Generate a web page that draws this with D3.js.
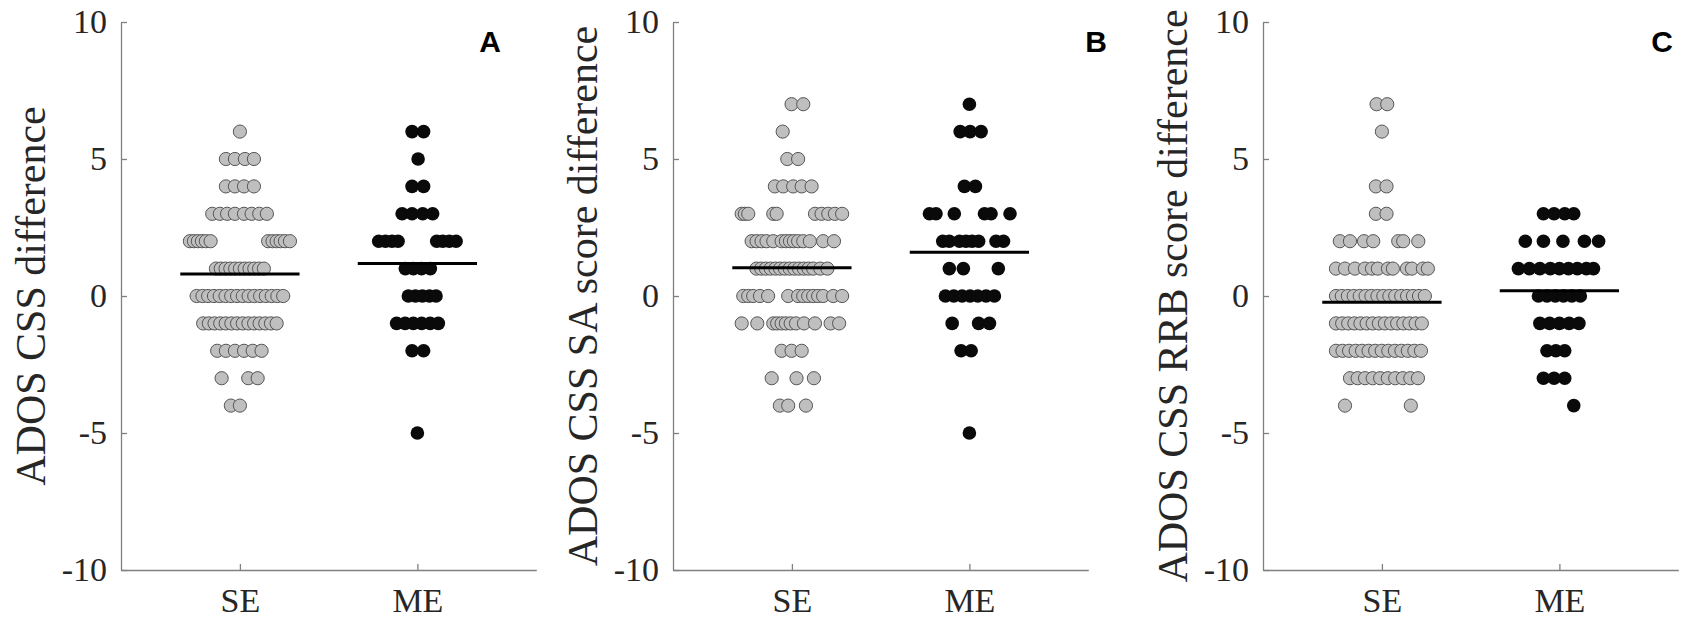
<!DOCTYPE html>
<html>
<head>
<meta charset="utf-8">
<script src="https://cdn.jsdelivr.net/npm/d3@7"></script>
<style>
  html, body { margin: 0; padding: 0; background: #ffffff; }
  svg { display: block; }
</style>
</head>
<body>
<svg id="chart" width="1683" height="623"></svg>
<script>
// ---------------- data ----------------
const groups = ["SE", "ME"];
const yTicks = [-10, -5, 0, 5, 10];
const panelLetters = ["A", "B", "C"];
const yLabels = [
  "ADOS CSS difference",
  "ADOS CSS SA score difference",
  "ADOS CSS RRB score difference"
];

// each row: [score value, [horizontal jitter of each subject, in category units]]
const panelA_SE = [
  [6,  [0]],
  [5,  [-0.079, -0.028, 0.028, 0.079]],
  [4,  [-0.079, -0.028, 0.023, 0.079]],
  [3,  [-0.156, -0.113, -0.072, -0.028, 0.023, 0.066, 0.109, 0.152]],
  [2,  [-0.282, -0.259, -0.237, -0.214, -0.192, -0.165, 0.159, 0.184, 0.207, 0.229, 0.254, 0.282]],
  [1,  [-0.135, -0.108, -0.081, -0.054, -0.027, 0.0, 0.027, 0.054, 0.081, 0.108, 0.135]],
  [0,  [-0.244, -0.211, -0.179, -0.146, -0.114, -0.081, -0.049, -0.016, 0.016, 0.049, 0.081, 0.114, 0.146, 0.179, 0.211, 0.244]],
  [-1, [-0.207, -0.175, -0.143, -0.111, -0.080, -0.048, -0.016, 0.016, 0.048, 0.080, 0.111, 0.143, 0.175, 0.207]],
  [-2, [-0.128, -0.079, -0.028, 0.023, 0.072, 0.122]],
  [-3, [-0.103, 0.047, 0.100]],
  [-4, [-0.051, 0.0]]
];
const panelA_ME = [
  [6,  [-0.030, 0.035]],
  [5,  [0.004]],
  [4,  [-0.030, 0.035]],
  [3,  [-0.086, -0.030, 0.030, 0.086]],
  [2,  [-0.218, -0.180, -0.143, -0.109, 0.109, 0.143, 0.180, 0.218]],
  [1,  [-0.068, -0.023, 0.023, 0.073]],
  [0,  [-0.051, -0.011, 0.028, 0.068, 0.105]],
  [-1, [-0.117, -0.069, -0.023, 0.024, 0.072, 0.118]],
  [-2, [-0.030, 0.035]],
  [-5, [0.0]]
];
const panelB_SE = [
  [7,  [-0.002, 0.064]],
  [6,  [-0.052]],
  [5,  [-0.026, 0.035]],
  [4,  [-0.096, -0.049, 0.007, 0.055, 0.111]],
  [3,  [-0.283, -0.265, -0.246, -0.105, -0.086, 0.130, 0.167, 0.205, 0.242, 0.283]],
  [2,  [-0.227, -0.199, -0.171, -0.143, -0.105, -0.058, -0.034, -0.011, 0.011, 0.035, 0.064, 0.101, 0.176, 0.237]],
  [1,  [-0.200, -0.173, -0.147, -0.120, -0.093, -0.067, -0.040, -0.013, 0.013, 0.040, 0.067, 0.093, 0.120, 0.160, 0.200]],
  [0,  [-0.274, -0.246, -0.218, -0.180, -0.134, -0.021, 0.035, 0.064, 0.092, 0.120, 0.148, 0.176, 0.233, 0.283]],
  [-1, [-0.283, -0.195, -0.105, -0.083, -0.058, -0.034, -0.007, 0.023, 0.068, 0.130, 0.218, 0.266]],
  [-2, [-0.058, -0.002, 0.055]],
  [-3, [-0.114, 0.026, 0.124]],
  [-4, [-0.068, -0.021, 0.079]]
];
const panelB_ME = [
  [7,  [0.0]],
  [6,  [-0.052, 0.004, 0.066]],
  [4,  [-0.028, 0.034]],
  [3,  [-0.225, -0.188, -0.085, 0.085, 0.122, 0.229]],
  [2,  [-0.150, -0.113, -0.056, -0.019, 0.015, 0.052, 0.150, 0.192]],
  [1,  [-0.113, -0.034, 0.163]],
  [0,  [-0.135, -0.088, -0.041, 0.004, 0.047, 0.094, 0.141]],
  [-1, [-0.097, 0.052, 0.113]],
  [-2, [-0.047, 0.010]],
  [-5, [0.0]]
];
const panelC_SE = [
  [7,  [-0.030, 0.030]],
  [6,  [0.0]],
  [4,  [-0.034, 0.026]],
  [3,  [-0.034, 0.026]],
  [2,  [-0.237, -0.180, -0.101, -0.049, 0.092, 0.120, 0.205]],
  [1,  [-0.259, -0.208, -0.152, -0.096, -0.056, -0.023, 0.034, 0.062, 0.141, 0.169, 0.231, 0.259]],
  [0,  [-0.259, -0.226, -0.192, -0.159, -0.125, -0.092, -0.059, -0.025, 0.008, 0.042, 0.075, 0.109, 0.142, 0.175, 0.209, 0.242]],
  [-1, [-0.259, -0.224, -0.190, -0.155, -0.121, -0.086, -0.052, -0.017, 0.017, 0.052, 0.086, 0.121, 0.155, 0.190, 0.225]],
  [-2, [-0.259, -0.222, -0.185, -0.148, -0.112, -0.075, -0.038, -0.001, 0.036, 0.073, 0.110, 0.146, 0.183, 0.220]],
  [-3, [-0.180, -0.137, -0.095, -0.052, -0.010, 0.033, 0.075, 0.118, 0.160, 0.203]],
  [-4, [-0.208, 0.163]]
];
const panelC_ME = [
  [3,  [-0.090, -0.030, 0.030, 0.081]],
  [2,  [-0.192, -0.090, 0.020, 0.141, 0.221]],
  [1,  [-0.231, -0.169, -0.110, -0.051, 0.0, 0.051, 0.101, 0.152, 0.192]],
  [0,  [-0.118, -0.070, -0.023, 0.023, 0.070, 0.118]],
  [-1, [-0.110, -0.055, 0.0, 0.055, 0.110]],
  [-2, [-0.070, -0.020, 0.030]],
  [-3, [-0.090, -0.030, 0.030]],
  [-4, [0.081]]
];
// group means (horizontal bars), [SE, ME]
const meansA = [0.80, 1.19];
const meansB = [1.03, 1.60];
const meansC = [-0.23, 0.19];

// ---------------- layout ----------------
const panels = [
  { se: panelA_SE, me: panelA_ME, means: meansA, left: 121, labelX: 45, letterX: 490 },
  { se: panelB_SE, me: panelB_ME, means: meansB, left: 673, labelX: 597, letterX: 1096 },
  { se: panelC_SE, me: panelC_ME, means: meansC, left: 1263, labelX: 1187, letterX: 1662 }
];
const plotW = 415.3, plotTop = 22, plotBottom = 570;
const serif = "'Liberation Serif', 'Times New Roman', serif";
const textCol = "#262626", axisCol = "#808080";

const svg = d3.select("#chart");
const y = d3.scaleLinear().domain([-10, 10]).range([plotBottom, plotTop]);

panels.forEach((p, pi) => {
  const x = d3.scaleLinear().domain([0.33, 2.67]).range([p.left, p.left + plotW]);
  const g = svg.append("g");

  // y axis
  const ya = g.append("g").attr("transform", `translate(${p.left},0)`)
    .call(d3.axisLeft(y).tickValues(yTicks).tickFormat(d => String(d))
      .tickSizeInner(-6).tickSizeOuter(0).tickPadding(14));
  // x axis
  const xa = g.append("g").attr("transform", `translate(0,${plotBottom})`)
    .call(d3.axisBottom(x).tickValues([1, 2]).tickFormat(d => groups[d - 1])
      .tickSizeInner(-6).tickSizeOuter(0).tickPadding(18));
  [ya, xa].forEach(a => {
    a.attr("font-family", serif).attr("font-size", 34);
    a.select(".domain").attr("stroke", axisCol).attr("stroke-width", 1.3);
    a.selectAll(".tick line").attr("stroke", axisCol).attr("stroke-width", 1.3);
    a.selectAll(".tick text").attr("fill", textCol);
  });

  // y label
  g.append("text")
    .attr("transform", `translate(${p.labelX},${(plotTop + plotBottom) / 2}) rotate(-90)`)
    .attr("text-anchor", "middle")
    .attr("font-family", serif).attr("font-size", 42).attr("fill", textCol)
    .text(yLabels[pi]);

  // panel letter
  g.append("text")
    .attr("x", p.letterX).attr("y", 52)
    .attr("text-anchor", "middle")
    .attr("font-family", "'Liberation Sans', Arial, sans-serif")
    .attr("font-weight", "bold").attr("font-size", 30).attr("fill", "#000")
    .text(panelLetters[pi]);

  // dots
  const flat = (rows, cat) => rows.flatMap(([v, js]) => js.map(j => ({ v, x: cat + j })));
  g.append("g").selectAll("circle").data(flat(p.se, 1)).join("circle")
    .attr("cx", d => x(d.x)).attr("cy", d => y(d.v)).attr("r", 6.6)
    .attr("fill", "#bfbfbf").attr("stroke", "#555555").attr("stroke-width", 1);
  g.append("g").selectAll("circle").data(flat(p.me, 2)).join("circle")
    .attr("cx", d => x(d.x)).attr("cy", d => y(d.v)).attr("r", 6.8)
    .attr("fill", "#0a0a0a");

  // mean bars
  g.append("g").selectAll("line").data(p.means).join("line")
    .attr("x1", (d, i) => x(i + 1 - 0.336)).attr("x2", (d, i) => x(i + 1 + 0.336))
    .attr("y1", d => y(d)).attr("y2", d => y(d))
    .attr("stroke", "#000").attr("stroke-width", 3);
});
</script>
</body>
</html>
